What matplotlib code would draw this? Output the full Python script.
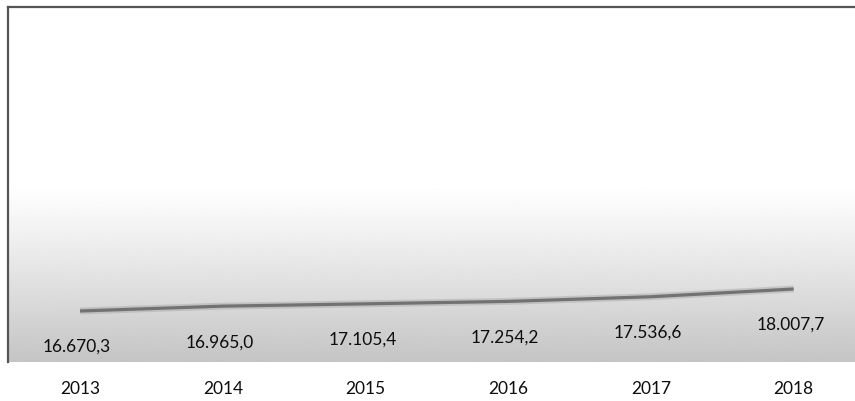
import numpy as np
import matplotlib
matplotlib.use("Agg")
import matplotlib.pyplot as plt

years = ["2013", "2014", "2015", "2016", "2017", "2018"]
values = [16670.3, 16965.0, 17105.4, 17254.2, 17536.6, 18007.7]
value_labels = ["16.670,3", "16.965,0", "17.105,4", "17.254,2", "17.536,6", "18.007,7"]

plt.rcParams["font.family"] = ["Lato", "DejaVu Sans"]

fig = plt.figure(figsize=(8.55, 4.02), dpi=100)
fig.patch.set_facecolor("white")
ax = fig.add_axes([8 / 855, 39 / 402, 857 / 855, 355 / 402])

x = np.arange(len(years))
y_lo, y_hi = 13570, 35150

# background shading: white on top, fading to light grey near the bottom
grad = np.linspace(0, 1, 256)
shade = np.where(grad < 0.5, 1.0, 1.0 - 0.23 * ((grad - 0.5) / 0.5) ** 1.1)
ax.imshow(shade[:, None], extent=[-0.505, 5.5, y_lo, y_hi], origin="upper",
          aspect="auto", cmap="gray", vmin=0, vmax=1, zorder=0,
          interpolation="bilinear")
ax.set_xlim(-0.505, 5.5)
ax.set_ylim(y_lo, y_hi)

# soft grey trend line
ax.plot(x, values, color="#8c8c8c", lw=5, alpha=0.3, solid_capstyle="butt", zorder=2)
ax.plot(x, values, color="#727272", lw=2.3, solid_capstyle="butt", zorder=3)

for xi, v, lab in zip(x, values, value_labels):
    ax.annotate(lab, (xi, v), xytext=(-3, -35), textcoords="offset pixels",
                ha="center", va="center", fontsize=12.5, color="#0d0d0d")

ax.set_xticks(x)
ax.set_xticklabels(years, fontsize=12.5, color="#0d0d0d")
ax.tick_params(axis="x", length=0, pad=13)
ax.set_yticks([])

for side in ["right", "bottom"]:
    ax.spines[side].set_visible(False)
for side in ["left", "top"]:
    ax.spines[side].set_color("#555555")
    ax.spines[side].set_linewidth(1.6)

fig.savefig("out.png", dpi=100)
